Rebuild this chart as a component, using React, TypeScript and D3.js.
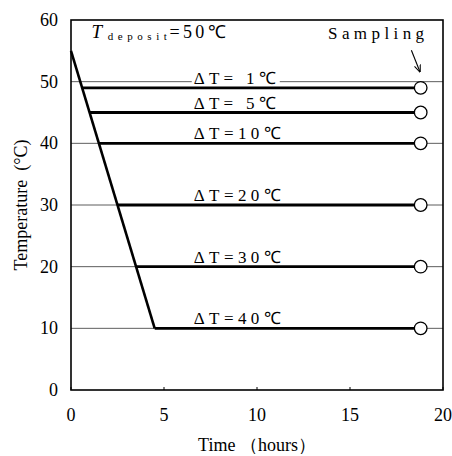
import React from "react";
import * as d3 from "d3";

// values
const deltaT = [1, 5, 10, 20, 30, 40];
const holdTemps = [49, 45, 40, 30, 20, 10];
const holdStart = [0.6, 1.0, 1.5, 2.5, 3.5, 4.5]; // hours, where hold meets cooling ramp
const samplingTime = 18.8;
const cooling = [
  { t: 0, T: 55 },
  { t: 4.5, T: 10 },
];
const gridTemps = [10, 20, 30, 40, 50];
const xTicks = [0, 5, 10, 15, 20];
const yTicks = [0, 10, 20, 30, 40, 50, 60];
const labels = deltaT.map(d => (d < 10 ? `ΔT= ${d}℃` : `ΔT=${d}℃`));

const W = 452, H = 456;
const margin = { top: 20, right: 9, bottom: 66, left: 71 };
const font = "'Liberation Serif', 'Times New Roman', serif";

export default function App() {
  const x = d3.scaleLinear().domain([0, 20]).range([margin.left, W - margin.right]);
  const y = d3.scaleLinear().domain([0, 60]).range([H - margin.bottom, margin.top]);
  const line = d3.line<{ t: number; T: number }>().x(d => x(d.t)).y(d => y(d.T));

  return (
    <svg width={W} height={H} style={{ position: "absolute", left: 0, top: 0, background: "#fff" }}
      fontFamily={font}>
      <defs>
        <marker id="arr" viewBox="0 0 10 10" refX="9" refY="5" markerWidth="7" markerHeight="7" orient="auto">
          <path d="M0,1 L10,5 L0,9" fill="none" stroke="#000" strokeWidth="1.4" />
        </marker>
      </defs>

      {/* thin grid lines */}
      {gridTemps.map(v => (
        <line key={v} x1={x(0)} x2={x(20)} y1={y(v)} y2={y(v)} stroke="#333" strokeWidth={0.8} />
      ))}

      {/* ΔT labels with white backing */}
      {labels.map((s, i) => {
        const base = y(holdTemps[i]) - 4;
        const len = i < 2 ? 82 : 87;
        return (
          <g key={s}>
            <rect x={x(6.6) - 2} y={base - 14} width={len + 6} height={15} fill="#fff" />
            <text x={x(6.6)} y={base} fontSize={17} textLength={len} lengthAdjust="spacing"
              style={{ whiteSpace: "pre" }}>{s}</text>
          </g>
        );
      })}

      {/* cooling ramp */}
      <path d={line(cooling) || ""} fill="none" stroke="#000" strokeWidth={2.6} />

      {/* holding lines */}
      {holdTemps.map((v, i) => (
        <line key={v} x1={x(holdStart[i])} x2={x(samplingTime)} y1={y(v)} y2={y(v)}
          stroke="#000" strokeWidth={2.8} />
      ))}

      {/* sampling circles */}
      {holdTemps.map(v => (
        <circle key={v} cx={x(samplingTime)} cy={y(v)} r={6.3} fill="#fff" stroke="#000" strokeWidth={1.3} />
      ))}

      {/* frame */}
      <rect x={x(0)} y={y(60)} width={x(20) - x(0)} height={y(0) - y(60)} fill="none" stroke="#000" strokeWidth={1.6} />

      {/* x ticks */}
      {xTicks.map(t => (
        <g key={t}>
          <line x1={x(t)} x2={x(t)} y1={y(0)} y2={y(0) - 3} stroke="#000" strokeWidth={1} />
          <text x={x(t)} y={y(0) + 31} fontSize={18} textAnchor="middle">{t}</text>
        </g>
      ))}
      {/* y ticks */}
      {yTicks.map(v => (
        <text key={v} x={x(0) - 13} y={y(v) + 6} fontSize={18} textAnchor="end">{v}</text>
      ))}

      <text x={(x(0) + x(20)) / 2} y={H - 5} fontSize={18} textAnchor="middle" style={{ whiteSpace: "pre" }}>
        Time （hours）
      </text>
      <text transform={`translate(27,${(y(0) + y(60)) / 2}) rotate(-90)`} fontSize={18} textAnchor="middle"
        style={{ whiteSpace: "pre" }}>
        Temperature  (°C)
      </text>

      {/* title annotation */}
      <text x={x(1.1)} y={y(60) + 18} fontSize={19} fontStyle="italic">T</text>
      <text x={x(1.98)} y={y(60) + 20} fontSize={11} textLength={59} lengthAdjust="spacing">deposit</text>
      <text x={x(5.3)} y={y(60) + 18} fontSize={18} textLength={56} lengthAdjust="spacing">=50℃</text>

      {/* sampling annotation */}
      <text x={x(13.82)} y={y(60) + 19} fontSize={17} textLength={96} lengthAdjust="spacing">Sampling</text>
      <line x1={x(18.3)} y1={y(55.1)} x2={x(18.76)} y2={y(51.6)} stroke="#000" strokeWidth={1.1} markerEnd="url(#arr)" />
    </svg>
  );
}
